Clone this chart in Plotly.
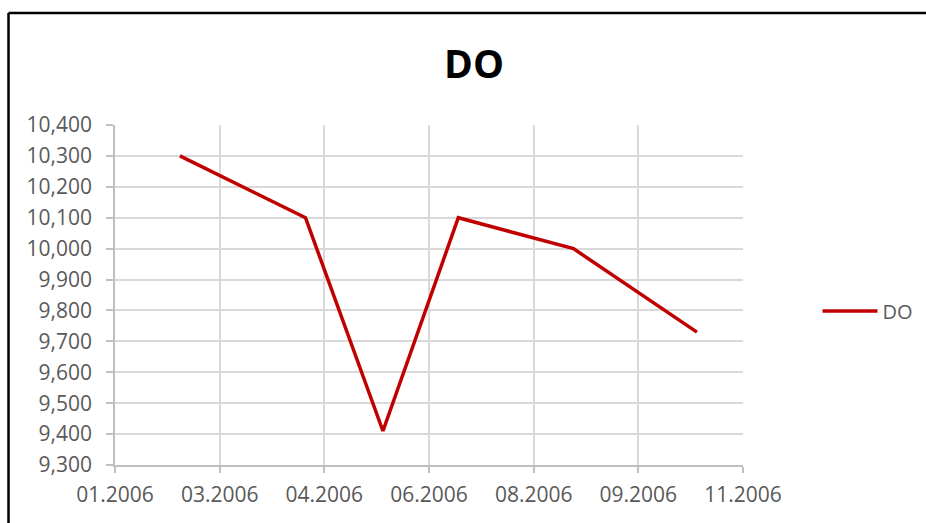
import plotly.graph_objects as go

# Dissolved oxygen readings, 2006
dates = ["2006-02-18", "2006-04-19", "2006-05-26", "2006-07-01", "2006-08-25", "2006-10-23"]
do_values = [10.300, 10.100, 9.410, 10.100, 10.000, 9.730]
series_name = "DO"

x_start = "2006-01-18"
x_end = "2006-11-14"
day_ms = 86400000

LINE_RED = "#C00000"
GRID = "#d9d9d9"
AXIS = "#bfbfbf"
TEXT = "#595959"
FONT = "Open Sans"

fig = go.Figure()
fig.add_trace(go.Scatter(
    x=dates, y=do_values, mode="lines", name=series_name,
    line=dict(color=LINE_RED, width=3.5),
))

W, H = 926, 523
L, R, T, B = 115, 183, 125, 58
pw, ph = W - L - R, H - T - B


def px_x(p):
    return (p - L) / pw


def px_y(p):
    return (H - B - p) / ph


fig.update_layout(
    width=W, height=H,
    margin=dict(l=L, r=R, t=T, b=B, autoexpand=False),
    paper_bgcolor="white", plot_bgcolor="white",
    separators=",.",
    font=dict(family=FONT, size=21, color=TEXT),
    title=dict(text="<b>DO</b>", x=474 / W, xanchor="center", y=1 - 64 / H, yanchor="middle",
               font=dict(family=FONT, size=39, color="black")),
    showlegend=True,
    legend=dict(x=px_x(817.5), xanchor="left", y=px_y(311), yanchor="middle",
                font=dict(family=FONT, size=20, color=TEXT), bgcolor="rgba(0,0,0,0)",
                itemwidth=55),
    xaxis=dict(
        type="date", range=[x_start, x_end], tick0=x_start, dtick=50 * day_ms,
        tickformat="%m.%Y", showgrid=True, gridcolor=GRID, gridwidth=1.5,
        showline=True, linecolor=AXIS, linewidth=1.5,
        ticks="outside", ticklen=6, tickcolor=AXIS, tickwidth=1.5, zeroline=False,
        ticklabelstandoff=4,
    ),
    yaxis=dict(
        range=[9.3, 10.4], dtick=0.1, tick0=9.3, tickformat=".3f",
        showgrid=True, gridcolor=GRID, gridwidth=1.5,
        showline=True, linecolor=AXIS, linewidth=1.5,
        ticks="outside", ticklen=7, tickcolor=AXIS, tickwidth=1.5, zeroline=False,
        ticklabelstandoff=10,
    ),
    shapes=[
        dict(type="line", xref="paper", yref="paper", x0=px_x(8.5), x1=px_x(940),
             y0=px_y(13), y1=px_y(13), line=dict(color="black", width=2.5)),
        dict(type="line", xref="paper", yref="paper", x0=px_x(8.5), x1=px_x(8.5),
             y0=px_y(13), y1=px_y(540), line=dict(color="black", width=2.5)),
    ],
)

fig.write_html("out.html")
